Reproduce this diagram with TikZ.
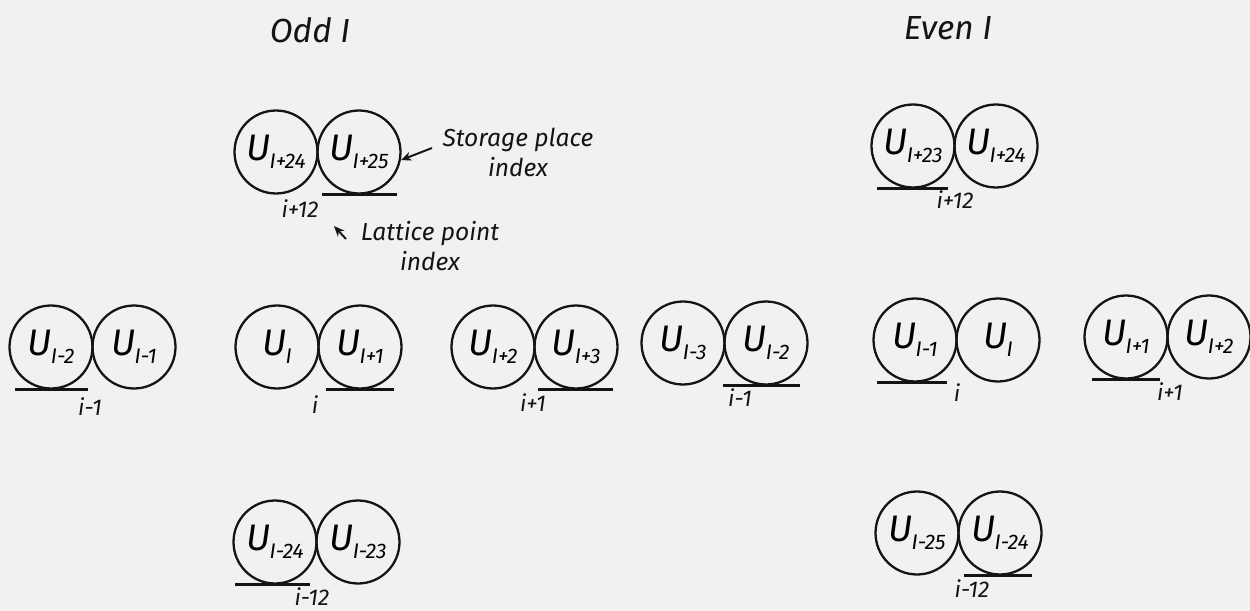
\documentclass[tikz,border=0pt]{standalone}
\usepackage{fontspec}
\setmainfont{Fira Sans}
\usetikzlibrary{calc,arrows.meta}
\definecolor{paper}{RGB}{241,241,239}
\definecolor{ink}{RGB}{20,20,20}
\newcommand\UU[1]{{\fontsize{21}{21}\selectfont\itshape U}\kern-0.5pt{\fontsize{12}{12}\selectfont\itshape\raisebox{-4.5pt}{#1}}}
\newcommand\pairUU[5]{%
  \node[ucirc] (#1L) at (#2,#3) {\UU{#4}};
  \node[ucirc] (#1R) at ($(#2,#3)+(83,0)$) {\UU{#5}};}
\begin{document}
\begin{tikzpicture}[x=0.02cm,y=-0.02cm,
  ucirc/.style={circle,draw=ink,line width=1.3pt,minimum size=1.66cm,inner sep=0pt},
  uline/.style={draw=ink,line width=1.6pt},
  lbl/.style={text=ink,font=\fontsize{13}{13}\selectfont\itshape,inner sep=1pt},
  note/.style={text=ink,font=\fontsize{14}{17}\selectfont\itshape,align=center,inner sep=1pt},
  ttl/.style={text=ink,font=\fontsize{19}{19}\selectfont\itshape},
  arr/.style={draw=ink,line width=1.1pt,-{Stealth[length=6pt,width=5pt]}}]
\fill[paper] (0,0) rectangle (1250,611);
\useasboundingbox (0,0) rectangle (1250,611);
% titles
\node[ttl] (todd) at (310,30) {Odd I};
\node[ttl] (teven) at (948,28) {Even I};
% odd I, top
\pairUU{ot}{276}{152}{I+24}{I+25}
\draw[uline] ($(otR.south)+(-37,0)$) -- ($(otR.south)+(38,0)$);
\node[lbl] (otl) at (300,209) {i+12};
\node[note] (sp) at (518,152) {Storage place\\index};
\coordinate (spTail) at (432,148);
\draw[arr] (spTail) -- (otR.-11);
\node[note] (lp) at (430,246) {Lattice point\\index};
\coordinate (lpTail) at (346,239);
\coordinate (lpTip) at (334,226);
\draw[arr] (lpTail) -- (lpTip);
% odd I, middle row
\pairUU{oa}{51}{347}{I-2}{I-1}
\draw[uline] ($(oaL.south)+(-36,0)$) -- ($(oaL.south)+(37,0)$);
\node[lbl] (oal) at (90,407) {i-1};
\pairUU{ob}{277}{347}{I}{I+1}
\draw[uline] ($(obR.south)+(-34,0)$) -- ($(obR.south)+(34,0)$);
\node[lbl] (obl) at (315,405) {i};
\pairUU{oc}{493}{347}{I+2}{I+3}
\draw[uline] ($(ocR.south)+(-38,0)$) -- ($(ocR.south)+(37,0)$);
\node[lbl] (ocl) at (533,403) {i+1};
\pairUU{od}{683}{343}{I-3}{I-2}
\draw[uline] ($(odR.south)+(-43,0)$) -- ($(odR.south)+(34,0)$);
\node[lbl] (odl) at (740,398) {i-1};
% odd I, bottom
\pairUU{oe}{275}{542}{I-24}{I-23}
\draw[uline] ($(oeL.south)+(-40,0)$) -- ($(oeL.south)+(35,0)$);
\node[lbl] (oel) at (312,597) {i-12};
% even I, top
\pairUU{et}{913}{146}{I+23}{I+24}
\draw[uline] ($(etL.south)+(-36,0)$) -- ($(etL.south)+(35,0)$);
\node[lbl] (etl) at (955,200) {i+12};
% even I, middle row
\pairUU{ea}{915}{340}{I-1}{I}
\draw[uline] ($(eaL.south)+(-38,0)$) -- ($(eaL.south)+(32,0)$);
\node[lbl] (eal) at (957,393) {i};
\pairUU{eb}{1126}{337}{I+1}{I+2}
\draw[uline] ($(ebL.south)+(-34,0)$) -- ($(ebL.south)+(34,0)$);
\node[lbl] (ebl) at (1170,392) {i+1};
% even I, bottom
\pairUU{ee}{917}{533}{I-25}{I-24}
\draw[uline] ($(eeR.south)+(-36,0)$) -- ($(eeR.south)+(32,0)$);
\node[lbl] (eel) at (972,589) {i-12};
\end{tikzpicture}
\end{document}
